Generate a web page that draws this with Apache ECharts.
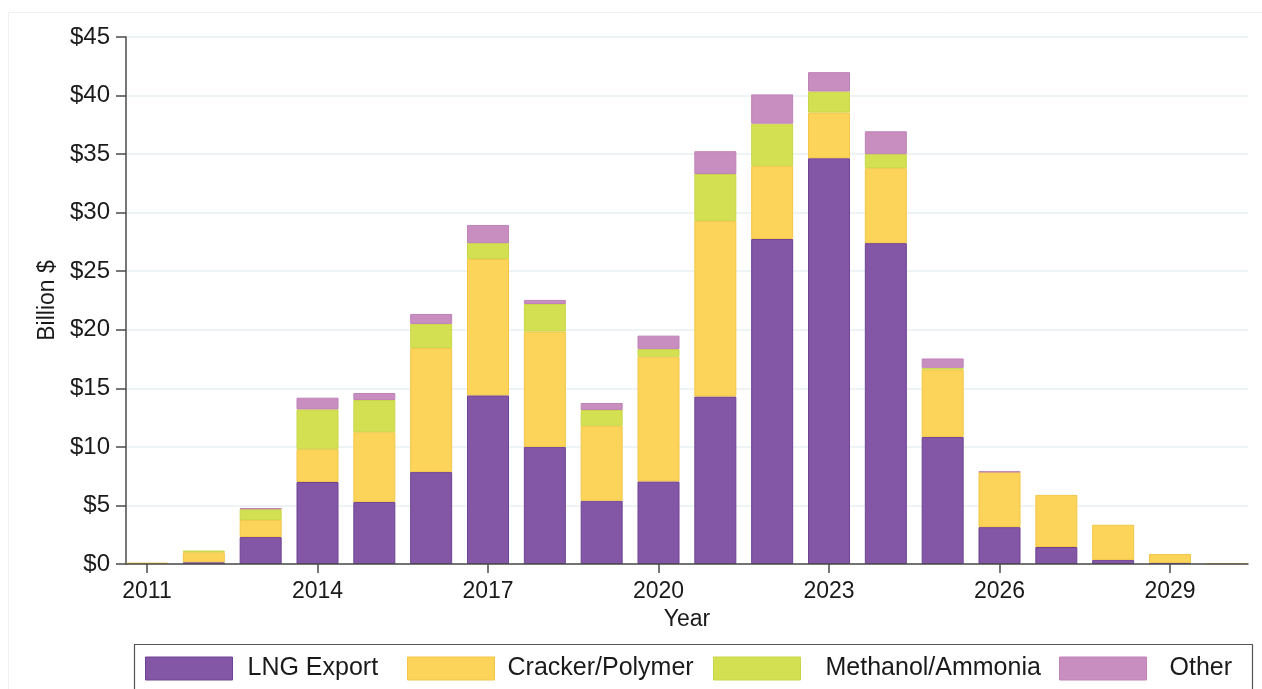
<!DOCTYPE html>
<html>
<head>
<meta charset="utf-8">
<script src="https://cdn.jsdelivr.net/npm/echarts@6/dist/echarts.min.js"></script>
<style>
html,body{margin:0;padding:0;background:#fff;}
#chart{width:1262px;height:689px;}
</style>
</head>
<body>
<div id="chart"></div>
<script>
const years = ['2011','2012','2013','2014','2015','2016','2017','2018','2019','2020','2021','2022','2023','2024','2025','2026','2027','2028','2029','2030'];
const lngExport = [0, 0.15, 2.3, 7.0, 5.3, 7.85, 14.4, 10.0, 5.4, 7.05, 14.3, 27.75, 34.65, 27.4, 10.85, 3.15, 1.45, 0.35, 0.1, 0];
const crackerPolymer = [0.12, 0.85, 1.45, 2.8, 5.95, 10.6, 11.65, 9.85, 6.4, 10.65, 15.0, 6.25, 3.9, 6.4, 5.75, 4.7, 4.45, 3.0, 0.75, 0.08];
const methanolAmmonia = [0, 0.15, 0.95, 3.4, 2.75, 2.05, 1.35, 2.35, 1.35, 0.65, 4.0, 3.6, 1.8, 1.2, 0.15, 0, 0, 0, 0, 0];
const other = [0, 0, 0.05, 1.0, 0.6, 0.85, 1.55, 0.35, 0.6, 1.15, 1.95, 2.5, 1.65, 1.95, 0.8, 0.05, 0, 0, 0, 0];
const xTickYears = [2011,2014,2017,2020,2023,2026,2029];
const yTicks = [0,5,10,15,20,25,30,35,40,45];
const seriesNames = ['LNG Export','Cracker/Polymer','Methanol/Ammonia','Other'];

const FONT = 'Liberation Sans, Arial, sans-serif';
const fills = ['#8357a5','#fcd45a','#d3e052','#c98ec0'];
const borders = ['#6e4294','#f3c646','#c9d647','#bf82b6'];
const values = [lngExport, crackerPolymer, methanolAmmonia, other];

const chart = echarts.init(document.getElementById('chart'), null, {renderer:'canvas'});

const series = seriesNames.map((name, i) => ({
  name: name,
  type: 'bar',
  stack: 'total',
  xAxisIndex: 1,
  yAxisIndex: 1,
  barWidth: 42,
  itemStyle: {color: fills[i], borderColor: borders[i], borderWidth: 1},
  emphasis: {disabled: true},
  data: values[i].map(v => (v > 0 ? v : '-'))
}));

const legendX = [145, 407, 713, 1059];
const textPad = [10, 8, 20, 18];
const legends = seriesNames.map((name, i) => ({
  data: [{name: name, icon: 'rect'}],
  left: legendX[i],
  top: 656,
  itemWidth: 87,
  itemHeight: 23,
  padding: 0,
  itemStyle: {borderColor: borders[i], borderWidth: 1},
  textStyle: {fontFamily: FONT, fontSize: 25, color: '#1a1a1a', padding: [0,0,0,textPad[i]]},
  selectedMode: false
}));

// category band width so that year ticks of the visible axis fall on bar centres
const catW = (1170 - 147) / 18;
const barGridLeft = 147 - catW / 2;
const barGridRight = 1262 - (barGridLeft + catW * years.length);

chart.setOption({
  animation: false,
  backgroundColor: '#ffffff',
  grid: [
    {left: 126, right: 14, top: 37, bottom: 125, containLabel: false},
    {left: barGridLeft, right: barGridRight, top: 37, bottom: 125, containLabel: false}
  ],
  legend: legends,
  xAxis: [{
    type: 'value',
    gridIndex: 0,
    min: 2011 - 21 / catW,
    max: 2029 + 78 / catW,
    name: 'Year',
    nameLocation: 'middle',
    nameGap: 40,
    nameTextStyle: {fontFamily: FONT, fontSize: 23, color: '#1a1a1a'},
    axisLine: {show: true, lineStyle: {color: '#4a4a4a', width: 1.5}},
    axisTick: {show: true, length: 9, lineStyle: {color: '#4a4a4a', width: 1.5}, customValues: xTickYears},
    axisLabel: {fontFamily: FONT, fontSize: 23, color: '#1a1a1a', margin: 16, customValues: xTickYears, formatter: v => String(v)},
    splitLine: {show: false},
    z: 5
  }, {
    type: 'category',
    gridIndex: 1,
    data: years,
    show: false
  }],
  yAxis: [{
    type: 'value',
    gridIndex: 0,
    min: 0,
    max: 45,
    interval: 5,
    name: 'Billion $',
    nameLocation: 'middle',
    nameGap: 64,
    nameTextStyle: {fontFamily: FONT, fontSize: 23, color: '#1a1a1a'},
    axisLine: {show: true, lineStyle: {color: '#4a4a4a', width: 1.5}},
    axisTick: {show: true, length: 10, lineStyle: {color: '#4a4a4a', width: 1.5}},
    axisLabel: {fontFamily: FONT, fontSize: 24, color: '#1a1a1a', margin: 16, customValues: yTicks, formatter: v => '$' + v},
    splitLine: {show: true, lineStyle: {color: '#e9f1f3', width: 1.5}}
  }, {
    type: 'value',
    gridIndex: 1,
    min: 0,
    max: 45,
    interval: 5,
    show: false,
    splitLine: {show: false}
  }],
  graphic: [
    {type: 'rect', silent: true, shape: {x: 8.5, y: 12.5, width: 1300, height: 700}, style: {fill: 'none', stroke: '#f1f1f1', lineWidth: 1}, z: -1},
    {type: 'rect', silent: true, shape: {x: 134.5, y: 644.5, width: 1118, height: 60}, style: {fill: 'none', stroke: '#555555', lineWidth: 1.2}}
  ],
  series: series
});
</script>
</body>
</html>
